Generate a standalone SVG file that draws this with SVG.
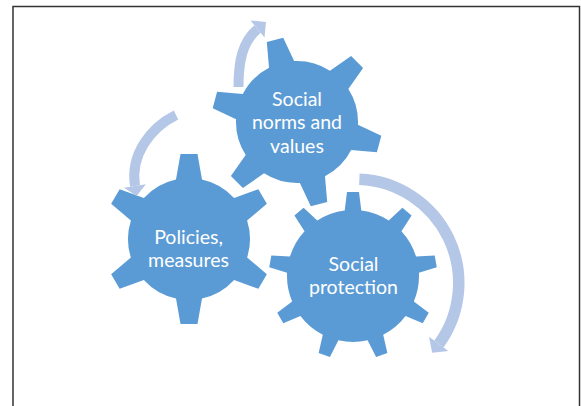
<svg xmlns="http://www.w3.org/2000/svg" xmlns:xlink="http://www.w3.org/1999/xlink" width="581" height="406" viewBox="0 0 581 406">
<style>
.gear{fill:#5B9BD5;}
.lbl{font-family:Lato,"Open Sans","Liberation Sans",sans-serif;font-size:19.5px;fill:#FFFFFF;text-anchor:middle;}
.band{fill:none;stroke:#B4C7E7;stroke-linecap:butt;}
.head{fill:#B4C7E7;}
</style>
<defs>
<path id="gear6" d="M59.6,-13 L85,-8.5 L85,8.5 L59.6,13 A61,61 0 0 1 41.06,45.11 L49.86,69.36 L35.14,77.86 L18.54,58.11 A61,61 0 0 1 -18.54,58.11 L-35.14,77.86 L-49.86,69.36 L-41.06,45.11 A61,61 0 0 1 -59.6,13 L-85,8.5 L-85,-8.5 L-59.6,-13 A61,61 0 0 1 -41.06,-45.11 L-49.86,-69.36 L-35.14,-77.86 L-18.54,-58.11 A61,61 0 0 1 18.54,-58.11 L35.14,-77.86 L49.86,-69.36 L41.06,-45.11 A61,61 0 0 1 59.6,-13 Z"/>
<path id="gear9" d="M65.48,-8.3 L84,-6 L84,6 L65.48,8.3 A66,66 0 0 1 55.49,35.73 L68.2,49.4 L60.49,58.59 L44.82,48.45 A66,66 0 0 1 19.54,63.04 L20.49,81.68 L8.67,83.77 L3.19,65.93 A66,66 0 0 1 -25.55,60.86 L-36.8,75.74 L-47.2,69.74 L-39.93,52.56 A66,66 0 0 1 -58.69,30.19 L-76.88,34.37 L-80.99,23.09 L-64.37,14.59 A66,66 0 0 1 -64.37,-14.59 L-80.99,-23.09 L-76.88,-34.37 L-58.69,-30.19 A66,66 0 0 1 -39.93,-52.56 L-47.2,-69.74 L-36.8,-75.74 L-25.55,-60.86 A66,66 0 0 1 3.19,-65.93 L8.67,-83.77 L20.49,-81.68 L19.54,-63.04 A66,66 0 0 1 44.82,-48.45 L60.49,-58.59 L68.2,-49.4 L55.49,-35.73 A66,66 0 0 1 65.48,-8.3 Z"/>
</defs>
<rect x="0" y="0" width="581" height="406" fill="#FFFFFF"/>
<rect x="13" y="6.5" width="566.5" height="420" fill="none" stroke="#333333" stroke-width="1.5"/>
<g id="gear-social-protection">
<use xlink:href="#gear9" class="gear" transform="translate(353,276) rotate(-90)"/>
<text class="lbl" x="353.5" y="271">Social</text>
<text class="lbl" x="353.5" y="293.5">protection</text>
</g>
<g id="gear-policies">
<use xlink:href="#gear6" class="gear" transform="translate(189,239) rotate(30)"/>
<text class="lbl" x="188.5" y="244">Policies,</text>
<text class="lbl" x="188.5" y="267">measures</text>
</g>
<g id="gear-social-norms">
<use xlink:href="#gear6" class="gear" transform="translate(297,122) rotate(15)"/>
<text class="lbl" x="297" y="106">Social</text>
<text class="lbl" x="297" y="129">norms and</text>
<text class="lbl" x="297" y="152.5">values</text>
</g>
<g id="connectors">
<path class="band" stroke-width="10" d="M238.5,87 C238.5,62 242,42 257.5,29"/>
<polygon class="head" points="250.5,20.5 266,22 264.5,37.5"/>
<path class="band" stroke-width="10" d="M176,115 C150,128 130,155 135,186"/>
<polygon class="head" points="145.9,184.25 136.6,195.9 124.1,187.75"/>
<path class="band" stroke-width="11.5" d="M359.35,179.3 A103.75,103.75 0 0 1 438.9,344"/>
<polygon class="head" points="429,336.8 448.4,350.9 432.2,352.7"/>
</g>
</svg>
